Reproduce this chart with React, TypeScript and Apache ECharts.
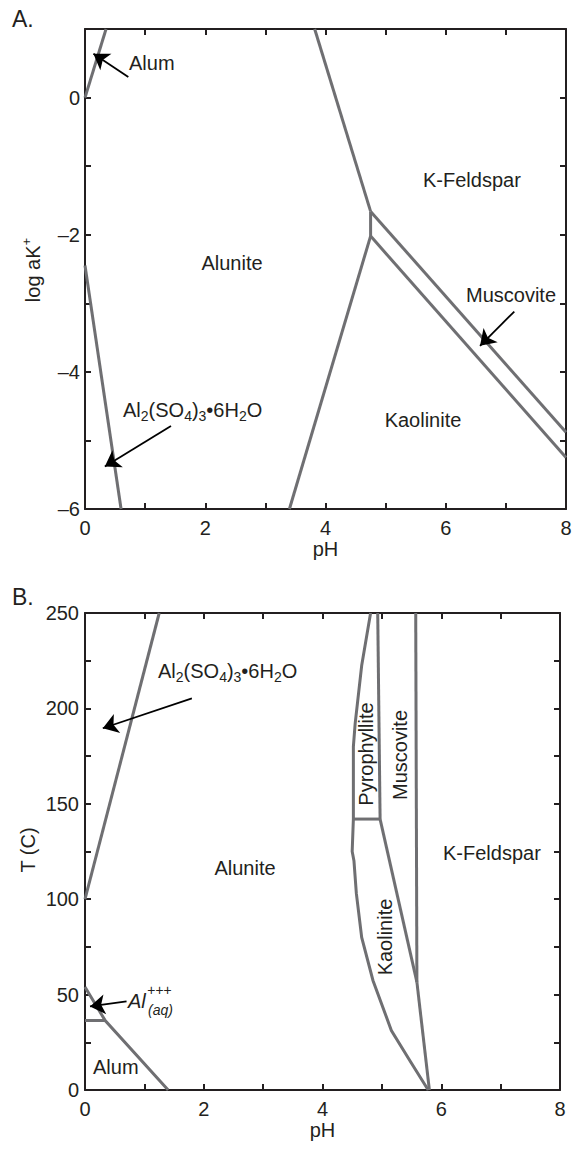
import React, { useEffect, useRef } from "react";
import * as echarts from "echarts";

// ---- Panel A: log aK+ vs pH (phase boundaries) ----
const alumBoundaryA = [[0, 0], [0.35, 1]];
const sulfateBoundaryA = [[0, -2.45], [0.6, -6]];
const aluniteFeldsparA = [[3.82, 1], [4.75, -1.66]];
const tripleJoinA = [[4.75, -1.66], [4.75, -2.02]];
const aluniteKaoliniteA = [[4.75, -2.02], [3.4, -6]];
const feldsparMuscoviteA = [[4.75, -1.66], [8, -4.88]];
const muscoviteKaoliniteA = [[4.75, -2.02], [8, -5.25]];

// arrows: [tail, head]
const alumArrowA = [[0.72, 0.3], [0.14, 0.64]];
const sulfateArrowA = [[1.43, -4.79], [0.33, -5.38]];
const muscoviteArrowA = [[7.14, -3.12], [6.57, -3.62]];

// ---- Panel B: T (C) vs pH ----
const sulfateBoundaryB = [[0, 100], [1.25, 250]];
const alAqBoundaryB = [[0, 54], [0.34, 36.4], [1.4, 0]];
const alumAqBoundaryB = [[0, 36.4], [0.34, 36.4]];
const aluniteLeftCurveB = [
  [4.81, 250], [4.66, 222.5], [4.55, 192], [4.52, 180], [4.52, 160], [4.52, 142],
  [4.5, 125], [4.53, 120], [4.57, 103], [4.66, 80], [4.85, 57.4], [5.16, 31.2],
  [5.47, 15.5], [5.78, 0],
];
const pyroMuscoviteB = [[4.93, 250], [4.97, 142]];
const pyroKaoliniteB = [[4.52, 142], [4.97, 142]];
const kaoliniteMuscoviteB = [[4.97, 142], [5.59, 56.5]];
const muscoviteFeldsparB = [[5.57, 250], [5.59, 56.5]];
const kaoliniteFeldsparB = [[5.59, 56.5], [5.8, 0]];

const sulfateArrowB = [[1.8, 205.3], [0.3, 189.6]];
const alAqArrowB = [[0.7, 46.5], [0.084, 43.8]];

// axis ranges and ticks
const pHRange = [0, 8];
const logKRange = [-6, 1];
const tempRange = [0, 250];

const INK = "#231f20";
const PHASE = "#6f6f72";
const FONT = "'Liberation Sans', Arial, sans-serif";

const boundariesA = [
  alumBoundaryA, sulfateBoundaryA, aluniteFeldsparA, tripleJoinA,
  aluniteKaoliniteA, feldsparMuscoviteA, muscoviteKaoliniteA,
];
const boundariesB = [
  sulfateBoundaryB, alAqBoundaryB, alumAqBoundaryB, aluniteLeftCurveB,
  pyroMuscoviteB, pyroKaoliniteB, kaoliniteMuscoviteB, muscoviteFeldsparB,
  kaoliniteFeldsparB,
];
const arrowsA = [alumArrowA, sulfateArrowA, muscoviteArrowA];
const arrowsB = [sulfateArrowB, alAqArrowB];

const minusFmt = (v: number) => (v < 0 ? "\u2013" + Math.abs(v) : String(v));

function axisBase(extra: any) {
  return {
    type: "value",
    splitLine: { show: false },
    axisLine: { show: true, onZero: false, lineStyle: { color: INK, width: 2 } },
    axisTick: { show: true, inside: true, length: 6, lineStyle: { color: INK, width: 2 } },
    ...extra,
  };
}

function txt(text: string, x: number, y: number, opts: any = {}) {
  return {
    type: "text",
    x,
    y,
    rotation: opts.rotation || 0,
    z: 10,
    style: {
      text,
      fill: INK,
      fontSize: opts.fontSize || 20,
      fontFamily: FONT,
      fontStyle: opts.fontStyle || "normal",
      align: opts.align || "left",
      textAlign: opts.align || "left",
      verticalAlign: "middle",
      textVerticalAlign: "middle",
      rich: opts.rich,
    },
  };
}

const formulaRich = {
  n: { fontSize: 20, fontFamily: FONT, color: INK, lineHeight: 26 },
  s: { fontSize: 14, fontFamily: FONT, color: INK, lineHeight: 12, verticalAlign: "bottom" },
};
const formulaText = "{n|Al}{s|2}{n|(SO}{s|4}{n|)}{s|3}{n|•6H}{s|2}{n|O}";

export default function App() {
  const ref = useRef<HTMLDivElement>(null);

  useEffect(() => {
    document.body.style.margin = "0";
    const chart = echarts.init(ref.current!, null, { renderer: "svg" });

    const lineSeries = (data: number[][], idx: number) => ({
      type: "line",
      xAxisIndex: idx,
      yAxisIndex: idx,
      data,
      showSymbol: false,
      symbol: "none",
      silent: true,
      lineStyle: { color: PHASE, width: 3, cap: "butt", join: "miter" },
      z: 3,
    });
    const arrowSeries = (arrows: number[][][], idx: number) => ({
      type: "lines",
      coordinateSystem: "cartesian2d",
      xAxisIndex: idx,
      yAxisIndex: idx,
      symbol: ["none", "arrow"],
      symbolSize: 15,
      silent: true,
      lineStyle: { color: "#000", width: 1.8, opacity: 1 },
      itemStyle: { color: "#000" },
      data: arrows.map((a) => ({ coords: a })),
      z: 5,
    });

    const labelFont = { color: INK, fontSize: 20, fontFamily: FONT };

    chart.setOption({
      animation: false,
      grid: [
        { left: 85, top: 29, width: 481, height: 480 },
        { left: 85, top: 613, width: 475, height: 477 },
      ],
      xAxis: [
        axisBase({
          gridIndex: 0, position: "bottom", min: pHRange[0], max: pHRange[1], interval: 1,
          axisLabel: { ...labelFont, margin: 9, formatter: (v: number) => (v % 2 === 0 ? String(v) : "") },
          name: "pH", nameLocation: "middle", nameGap: 30, nameTextStyle: labelFont,
        }),
        axisBase({ gridIndex: 0, position: "top", min: pHRange[0], max: pHRange[1], interval: 1, axisLabel: { show: false } }),
        axisBase({
          gridIndex: 1, position: "bottom", min: pHRange[0], max: pHRange[1], interval: 1,
          axisLabel: { ...labelFont, margin: 9, formatter: (v: number) => (v % 2 === 0 ? String(v) : "") },
          name: "pH", nameLocation: "middle", nameGap: 30, nameTextStyle: labelFont,
        }),
        axisBase({ gridIndex: 1, position: "top", min: pHRange[0], max: pHRange[1], interval: 1, axisLabel: { show: false } }),
      ],
      yAxis: [
        axisBase({
          gridIndex: 0, position: "left", min: logKRange[0], max: logKRange[1], interval: 1,
          axisLabel: { ...labelFont, margin: 5, formatter: (v: number) => (v % 2 === 0 ? minusFmt(v) : "") },
        }),
        axisBase({ gridIndex: 0, position: "right", min: logKRange[0], max: logKRange[1], interval: 1, axisLabel: { show: false } }),
        axisBase({
          gridIndex: 1, position: "left", min: tempRange[0], max: tempRange[1], interval: 25,
          axisLabel: { ...labelFont, margin: 6, formatter: (v: number) => (v % 50 === 0 ? String(v) : "") },
        }),
        axisBase({ gridIndex: 1, position: "right", min: tempRange[0], max: tempRange[1], interval: 25, axisLabel: { show: false } }),
      ],
      series: [
        ...boundariesA.map((d) => lineSeries(d, 0)),
        ...boundariesB.map((d) => lineSeries(d, 2)),
        arrowSeries(arrowsA, 0),
        arrowSeries(arrowsB, 2),
      ],
      graphic: [
        // panel letters
        txt("A.", 12, 19, { fontSize: 23 }),
        txt("B.", 12, 597, { fontSize: 23 }),
        // y-axis names
        txt("{n|log aK}{p|+}", 33, 270, {
          rotation: Math.PI / 2, align: "center",
          rich: {
            n: { fontSize: 20, fontFamily: FONT, color: INK, lineHeight: 26 },
            p: { fontSize: 13, fontFamily: FONT, color: INK, lineHeight: 12, verticalAlign: "top" },
          },
        }),
        txt("T (C)", 28, 850, { rotation: Math.PI / 2, align: "center" }),
        // panel A field labels
        txt("Alum", 129, 63),
        txt("Alunite", 232, 263, { align: "center" }),
        txt("K-Feldspar", 423, 180),
        txt("Muscovite", 466, 295),
        txt("Kaolinite", 423, 420, { align: "center" }),
        txt(formulaText, 123, 410, { rich: formulaRich }),
        // panel B field labels
        txt(formulaText, 158, 671, { rich: formulaRich }),
        txt("Alunite", 245, 868, { align: "center" }),
        txt("Alum", 93, 1067),
        txt("Al", 128, 1001, { fontStyle: "italic" }),
        txt("+++", 147, 990, { fontStyle: "italic", fontSize: 14 }),
        txt("(aq)", 148, 1010, { fontStyle: "italic", fontSize: 14 }),
        txt("Pyrophyllite", 366, 754, { rotation: Math.PI / 2, align: "center" }),
        txt("Muscovite", 400, 755, { rotation: Math.PI / 2, align: "center" }),
        txt("K-Feldspar", 443, 853),
        txt("Kaolinite", 385, 937, { rotation: Math.PI / 2, align: "center" }),
      ],
    });

    return () => chart.dispose();
  }, []);

  return <div ref={ref} style={{ width: 577, height: 1149 }} />;
}
